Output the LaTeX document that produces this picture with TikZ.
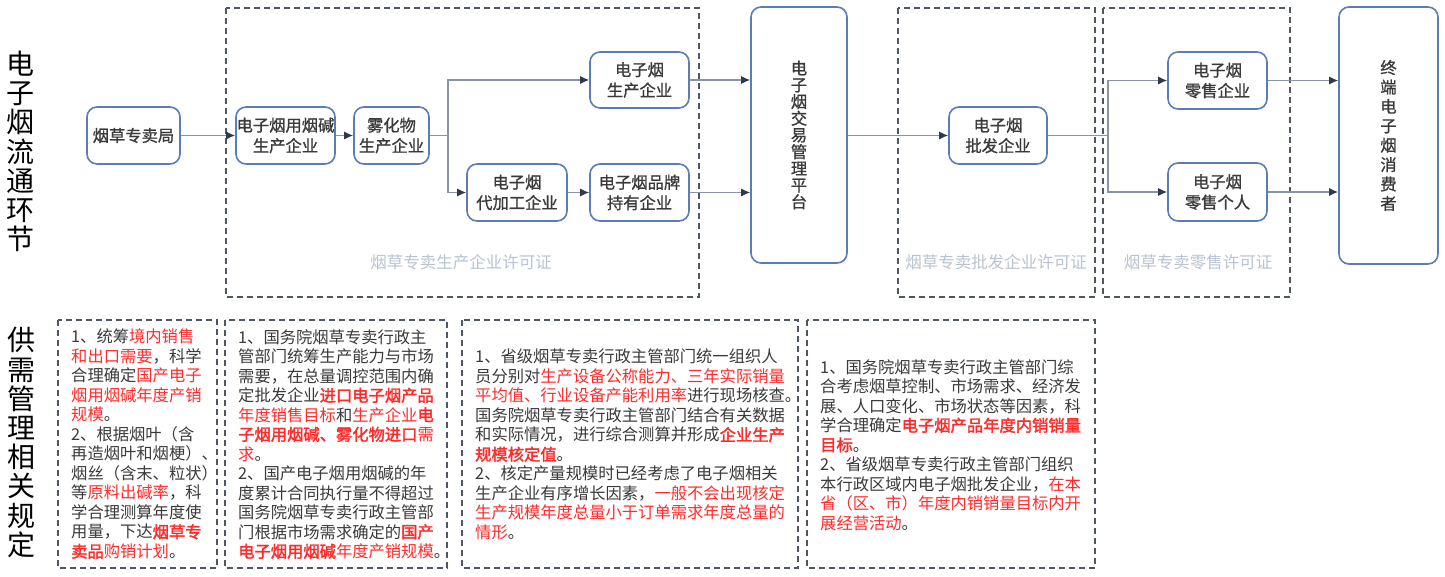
\documentclass[tikz,border=0pt]{standalone}
\usepackage{fontspec}
\usetikzlibrary{arrows.meta}
\setmainfont{Noto Sans CJK SC}
\newfontfamily\boxfont{Noto Sans CJK SC}[FakeBold=1]
\newfontfamily\redbold{Noto Sans CJK SC}[FakeBold=2]
\definecolor{boxblue}{HTML}{5A7DB8}
\definecolor{txt}{HTML}{3A3A3A}
\definecolor{linegray}{HTML}{8A94A3}
\definecolor{arrowdark}{HTML}{2E3A4C}
\definecolor{dashgray}{HTML}{4E5664}
\definecolor{lic}{HTML}{B8C3D3}
\definecolor{tred}{HTML}{FF2B2B}
\newcommand\rdn[1]{\textcolor{tred}{#1}}
\newcommand\rdb[1]{\textcolor{tred}{\redbold #1}}
\begin{document}
\begin{tikzpicture}[x=1pt,y=-1pt,
  nbox/.style={draw=boxblue, line width=1.6pt, rounded corners=10pt, fill=white,
    align=center, text=txt, inner sep=0pt,
    font=\boxfont\fontsize{16.3}{20.5}\selectfont},
  arr/.style={draw=linegray, line width=1.3pt, -{Latex[length=9pt,width=8pt,color=arrowdark]}},
  ln/.style={draw=linegray, line width=1.3pt},
  dbox/.style={draw=dashgray, line width=1.4pt, dash pattern=on 6pt off 4pt},
  lic/.style={text=lic, inner sep=0pt, font=\fontsize{16.5}{18}\selectfont},
  para/.style={anchor=north west, inner sep=0pt, align=left, text=txt,
    font=\fontsize{16.3}{19.5}\selectfont},
  vtitle/.style={inner sep=0pt, align=center, text=black,
    font=\fontsize{28}{29.2}\selectfont}
]
\useasboundingbox[fill=white] (0,0) rectangle (1445,577);

% dashed license regions
\draw[dbox] (226,8) rectangle (699,297);
\draw[dbox] (898,8) rectangle (1095,297);
\draw[dbox] (1103,8) rectangle (1290,297);
\node[lic] (l1) at (461,262) {烟草专卖生产企业许可证};
\node[lic] (l2) at (996,262) {烟草专卖批发企业许可证};
\node[lic] (l3) at (1198,262) {烟草专卖零售许可证};

% titles
\node[vtitle] (t1) at (20,151.5) {电\\子\\烟\\流\\通\\环\\节};
\node[vtitle] (t2) at (21,442.5) {供\\需\\管\\理\\相\\关\\规\\定};

% flow nodes
\node[nbox, minimum width=93pt, minimum height=57pt] (ju) at (133.5,135.5) {烟草专卖局};
\node[nbox, minimum width=99pt, minimum height=57pt] (nic) at (285.5,135.5) {电子烟用烟碱\\生产企业};
\node[nbox, minimum width=75pt, minimum height=57pt] (atom) at (391.5,135.5) {雾化物\\生产企业};
\node[nbox, minimum width=99pt, minimum height=56pt] (prod) at (639.5,80) {电子烟\\生产企业};
\node[nbox, minimum width=100pt, minimum height=57pt] (proc) at (517,192.5) {电子烟\\代加工企业};
\node[nbox, minimum width=99pt, minimum height=57pt] (brand) at (639.5,192.5) {电子烟品牌\\持有企业};
\node[nbox, minimum width=96pt, minimum height=256pt, font=\boxfont\fontsize{16.3}{16.7}\selectfont] (plat) at (799,135) {电\\子\\烟\\交\\易\\管\\理\\平\\台};
\node[nbox, minimum width=98pt, minimum height=57pt] (ws) at (998,135.5) {电子烟\\批发企业};
\node[nbox, minimum width=99pt, minimum height=57pt] (ret1) at (1217.5,80.5) {电子烟\\零售企业};
\node[nbox, minimum width=99pt, minimum height=58pt] (ret2) at (1217.5,192) {电子烟\\零售个人};
\node[nbox, minimum width=99pt, minimum height=257pt, font=\boxfont\fontsize{16.3}{19.4}\selectfont] (term) at (1388.5,135.5) {终\\端\\电\\子\\烟\\消\\费\\者};

% connectors
\coordinate (s1) at (448,135.5);
\coordinate (s2) at (1108,135.5);
\draw[arr] (ju) -- (nic);
\draw[arr] (nic) -- (atom);
\draw[ln] (atom.east) -- (s1);
\draw[arr] (s1) |- (prod.west);
\draw[arr] (s1) |- (proc.west);
\draw[arr] (proc) -- (brand);
\draw[arr] (prod.east) -- (plat.west |- prod.east);
\draw[arr] (brand.east) -- (plat.west |- brand.east);
\draw[arr] (plat.east |- ws.west) -- (ws.west);
\draw[ln] (ws.east) -- (s2);
\draw[arr] (s2) |- (ret1.west);
\draw[arr] (s2) |- (ret2.west);
\draw[arr] (ret1.east) -- (term.west |- ret1.east);
\draw[arr] (ret2.east) -- (term.west |- ret2.east);

% bottom dashed boxes
\draw[dbox] (58,320) rectangle (217,568);
\draw[dbox] (225,320) rectangle (447,568);
\draw[dbox] (462,320) rectangle (798,568);
\draw[dbox] (807,320) rectangle (1095,568);

\node[para] (pa) at (71,329) {%
1、统筹\rdn{境内销售}\\
\rdn{和出口需要}，科学\\
合理确定\rdn{国产电子}\\
\rdn{烟用烟碱年度产销}\\
\rdn{规模}。\\
2、根据烟叶（含\\
再造烟叶和烟梗）、\\
烟丝（含末、粒状）\\
等\rdn{原料出碱率}，科\\
学合理测算年度使\\
用量，下达\rdb{烟草专}\\
\rdb{卖品}\rdn{购销计划}。};

\node[para] (pb) at (238,329) {%
1、国务院烟草专卖行政主\\
管部门统筹生产能力与市场\\
需要，在总量调控范围内确\\
定批发企业\rdb{进口电子烟产品}\\
\rdn{年度销售目标}和\rdn{生产企业}\rdb{电}\\
\rdb{子烟用烟碱、雾化物进口}\rdn{需}\\
\rdn{求}。\\
2、国产电子烟用烟碱的年\\
度累计合同执行量不得超过\\
国务院烟草专卖行政主管部\\
门根据市场需求确定的\rdb{国产}\\
\rdb{电子烟用烟碱}\rdn{年度产销规模}。};

\node[para] (pc) at (475,349) {%
1、省级烟草专卖行政主管部门统一组织人\\
员分别对\rdn{生产设备公称能力、三年实际销量}\\
\rdn{平均值、行业设备产能利用率}进行现场核查。\\
国务院烟草专卖行政主管部门结合有关数据\\
和实际情况，进行综合测算并形成\rdb{企业生产}\\
\rdb{规模核定值}。\\
2、核定产量规模时已经考虑了电子烟相关\\
生产企业有序增长因素，\rdn{一般不会出现核定}\\
\rdn{生产规模年度总量小于订单需求年度总量的}\\
\rdn{情形}。};

\node[para] (pd) at (820,359) {%
1、国务院烟草专卖行政主管部门综\\
合考虑烟草控制、市场需求、经济发\\
展、人口变化、市场状态等因素，科\\
学合理确定\rdb{电子烟产品年度内销销量}\\
\rdb{目标}。\\
2、省级烟草专卖行政主管部门组织\\
本行政区域内电子烟批发企业，\rdn{在本}\\
\rdn{省（区、市）年度内销销量目标内开}\\
\rdn{展经营活动}。};
\end{tikzpicture}
\end{document}
